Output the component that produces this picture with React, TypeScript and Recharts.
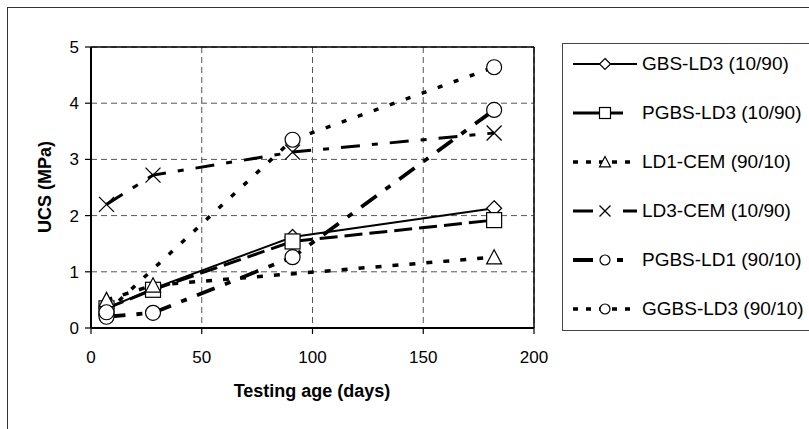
import React from "react";
import { LineChart, Line, XAxis, YAxis, CartesianGrid, ReferenceLine } from "recharts";

// testing ages (days) and UCS (MPa) per mix
const agesGbsLd3 = [7, 28, 91, 182];
const ucsGbsLd3 = [0.35, 0.7, 1.62, 2.13];

const agesPgbsLd3 = [7, 28, 91, 182];
const ucsPgbsLd3 = [0.35, 0.68, 1.54, 1.92];

const agesLd1Cem = [7, 28, 182];
const ucsLd1Cem = [0.5, 0.76, 1.26];

const agesLd3Cem = [7, 28, 91, 182];
const ucsLd3Cem = [2.2, 2.72, 3.13, 3.47];

const agesPgbsLd1 = [7, 28, 91, 182];
const ucsPgbsLd1 = [0.2, 0.27, 1.26, 3.88];

const agesGgbsLd3 = [7, 91, 182];
const ucsGgbsLd3 = [0.28, 3.35, 4.64];

const xTicks = [0, 50, 100, 150, 200];
const yTicks = [0, 1, 2, 3, 4, 5];

const FONT = '"Liberation Sans", Arial, sans-serif';

type Kind = "diamond" | "square" | "triangle" | "cross" | "circle";

const zip = (xs: number[], ys: number[]) => xs.map((x, i) => ({ x, y: ys[i] }));

// legendDash / legendLen: how the little sample line looks in the legend box
const series = [
  { name: "GBS-LD3 (10/90)", data: zip(agesGbsLd3, ucsGbsLd3), kind: "diamond" as Kind, width: 2, dash: undefined, legendDash: undefined, legendLen: 64 },
  { name: "PGBS-LD3 (10/90)", data: zip(agesPgbsLd3, ucsPgbsLd3), kind: "square" as Kind, width: 3, dash: "18 7", legendDash: undefined, legendLen: 50 },
  { name: "LD1-CEM (90/10)", data: zip(agesLd1Cem, ucsLd1Cem), kind: "triangle" as Kind, width: 3.5, dash: "6 11", legendDash: "5 8", legendLen: 64 },
  { name: "LD3-CEM (10/90)", data: zip(agesLd3Cem, ucsLd3Cem), kind: "cross" as Kind, width: 3, dash: "19 12 6 12", legendDash: "20 30 14 100", legendLen: 64 },
  { name: "PGBS-LD1 (90/10)", data: zip(agesPgbsLd1, ucsPgbsLd1), kind: "circle" as Kind, width: 3.8, dash: "19 11 6 11", legendDash: "20 24 6 100", legendLen: 64 },
  { name: "GGBS-LD3 (90/10)", data: zip(agesGgbsLd3, ucsGgbsLd3), kind: "circle" as Kind, width: 3.5, dash: "5 12", legendDash: "5 8", legendLen: 64 },
];

function Marker({ kind, cx, cy, r }: { kind: Kind; cx: number; cy: number; r: number }) {
  const common = { fill: "#fff", stroke: "#000", strokeWidth: 1.2 };
  switch (kind) {
    case "diamond":
      return <polygon points={`${cx},${cy - r} ${cx + r},${cy} ${cx},${cy + r} ${cx - r},${cy}`} {...common} />;
    case "square":
      return <rect x={cx - r} y={cy - r} width={2 * r} height={2 * r} {...common} />;
    case "triangle":
      return <polygon points={`${cx},${cy - r} ${cx + r},${cy + r * 0.9} ${cx - r},${cy + r * 0.9}`} {...common} />;
    case "cross":
      return (
        <path
          d={`M${cx - r},${cy - r}L${cx + r},${cy + r}M${cx + r},${cy - r}L${cx - r},${cy + r}`}
          fill="none"
          stroke="#000"
          strokeWidth={1.3}
        />
      );
    default:
      return <circle cx={cx} cy={cy} r={r} {...common} />;
  }
}

function LegendBox() {
  return (
    <div
      style={{
        position: "absolute",
        left: 562,
        top: 43,
        width: 260,
        height: 286,
        border: "1.5px solid #444",
        background: "#fff",
      }}
    >
      {series.map((s, i) => (
        <div key={s.name} style={{ position: "absolute", left: 0, top: 8 + i * 49, height: 24, width: 260 }}>
          <svg width={70} height={24} style={{ position: "absolute", left: 10, top: 0 }}>
            <line x1={0} y1={12} x2={s.legendLen} y2={12} stroke="#000" strokeWidth={s.width} strokeDasharray={s.legendDash} />
            <Marker kind={s.kind} cx={32} cy={12} r={s.kind === "circle" ? 5 : 5.5} />
          </svg>
          <span
            style={{
              position: "absolute",
              left: 79,
              top: 0,
              lineHeight: "24px",
              fontFamily: FONT,
              fontSize: 19,
              color: "#000",
              whiteSpace: "nowrap",
            }}
          >
            {s.name}
          </span>
        </div>
      ))}
    </div>
  );
}

export default function App() {
  return (
    <div style={{ position: "absolute", left: 0, top: 0, width: 809, height: 429, overflow: "hidden", background: "#fff" }}>
      <div
        style={{
          position: "absolute",
          left: 7,
          top: 7,
          width: 900,
          height: 500,
          borderLeft: "1.5px solid #333",
          borderTop: "1.5px solid #333",
        }}
      />
      <LineChart width={809} height={429} margin={{ top: 47, right: 275, bottom: 41, left: 0 }} style={{ position: "absolute", left: 0, top: 0 }}>
        <CartesianGrid stroke="#555" strokeDasharray="6 4" strokeWidth={1} />
        <XAxis
          type="number"
          dataKey="x"
          domain={[0, 200]}
          ticks={xTicks}
          height={60}
          tickSize={6}
          tickMargin={17}
          axisLine={{ stroke: "#000", strokeWidth: 2 }}
          tickLine={{ stroke: "#000", strokeWidth: 1.2 }}
          tick={{ fill: "#000", fontSize: 17, fontFamily: FONT }}
        />
        <YAxis
          type="number"
          domain={[0, 5]}
          ticks={yTicks}
          width={91}
          tickSize={6}
          tickMargin={6}
          axisLine={{ stroke: "#000", strokeWidth: 2 }}
          tickLine={{ stroke: "#000", strokeWidth: 1.2 }}
          tick={{ fill: "#000", fontSize: 17, fontFamily: FONT }}
        />
        <ReferenceLine y={5} stroke="#000" strokeWidth={1.5} />
        <ReferenceLine x={200} stroke="#000" strokeWidth={1.5} />
        {series.map((s) => (
          <Line
            key={s.name}
            data={s.data}
            dataKey="y"
            type="linear"
            stroke="#000"
            strokeWidth={s.width}
            strokeDasharray={s.dash}
            isAnimationActive={false}
            dot={(p: any) => <Marker key={`${s.name}-${p.index}`} kind={s.kind} cx={p.cx} cy={p.cy} r={7.5} />}
            activeDot={false}
          />
        ))}
      </LineChart>
      <div
        style={{
          position: "absolute",
          left: 212,
          width: 200,
          top: 381,
          textAlign: "center",
          fontFamily: FONT,
          fontWeight: "bold",
          fontSize: 18,
          color: "#000",
        }}
      >
        Testing age (days)
      </div>
      <div
        style={{
          position: "absolute",
          left: 45,
          top: 187,
          transform: "translate(-50%, -50%) rotate(-90deg)",
          fontFamily: FONT,
          fontWeight: "bold",
          fontSize: 18,
          color: "#000",
          whiteSpace: "nowrap",
        }}
      >
        UCS (MPa)
      </div>
      <LegendBox />
    </div>
  );
}
